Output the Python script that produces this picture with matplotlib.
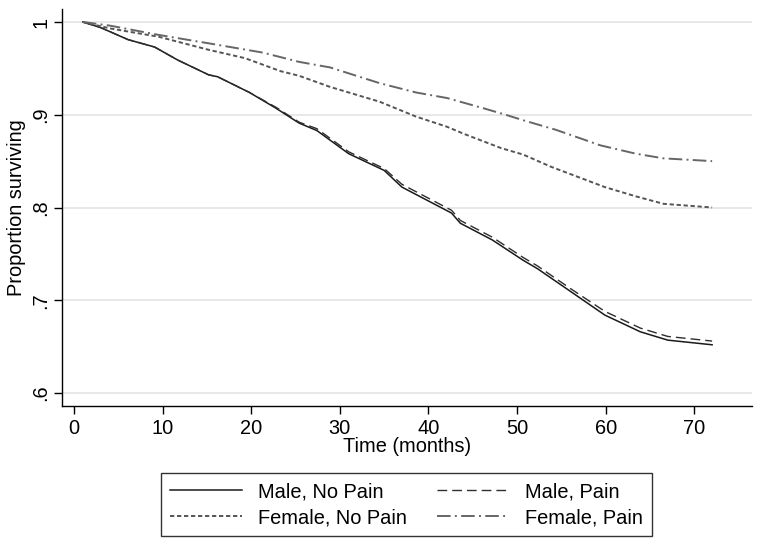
import matplotlib
matplotlib.use("Agg")
import matplotlib.pyplot as plt
import numpy as np

plt.rcParams['font.family'] = ['Liberation Sans', 'DejaVu Sans']

# Data
t_mnp = [1, 3, 6.1, 9.1, 11.7, 15.2, 16.2, 19.8, 22.8, 25.4, 27.4, 31, 35, 37, 40.6, 42.6,
         43.6, 47.2, 50.7, 52.3, 55.8, 59.9, 63.9, 67, 72]
v_mnp = [1.0, 0.994, 0.981, 0.973, 0.959, 0.943, 0.941, 0.924, 0.907, 0.891, 0.883, 0.858,
         0.840, 0.822, 0.804, 0.794, 0.783, 0.765, 0.743, 0.734, 0.711, 0.684, 0.666, 0.657, 0.652]

t_mp = [1, 3, 6.1, 9.1, 11.7, 15.2, 16.2, 19.8, 22.8, 25.4, 27.4, 31, 35, 37, 40.6, 42.6,
        43.6, 47.2, 50.7, 52.3, 55.8, 59.9, 63.9, 67, 72]
v_mp = [1.0, 0.994, 0.981, 0.973, 0.959, 0.943, 0.941, 0.924, 0.908, 0.892, 0.885, 0.860,
        0.842, 0.825, 0.807, 0.797, 0.786, 0.768, 0.746, 0.737, 0.714, 0.688, 0.670, 0.661, 0.656]

t_fnp = [1, 4.1, 9.6, 15.2, 19.3, 23.3, 25.4, 28.9, 34.5, 38.6, 42.1, 44.1, 48.2, 50.7,
         53.8, 59.9, 63.4, 66.5, 72]
v_fnp = [1.0, 0.993, 0.984, 0.970, 0.961, 0.947, 0.942, 0.930, 0.914, 0.898, 0.887, 0.879,
         0.864, 0.857, 0.844, 0.822, 0.812, 0.804, 0.800]

t_fp = [1, 4.1, 9.6, 15.2, 21.3, 25.4, 28.9, 34.5, 38.6, 42.1, 46.2, 48.7, 50.7, 54.3,
        59.4, 63.4, 66.5, 72]
v_fp = [1.0, 0.996, 0.986, 0.977, 0.967, 0.957, 0.951, 0.934, 0.924, 0.918, 0.907, 0.900,
        0.894, 0.884, 0.867, 0.858, 0.853, 0.850]

labels = ["Male, No Pain", "Male, Pain", "Female, No Pain", "Female, Pain"]
x_ticks = [0, 10, 20, 30, 40, 50, 60, 70]
y_ticks = [0.6, 0.7, 0.8, 0.9, 1.0]
y_ticklabels = [".6", ".7", ".8", ".9", "1"]

FS = 14.4

fig = plt.figure(figsize=(7.62, 5.46), dpi=100)
ax = fig.add_axes([62/762, 1-406/546, 690/762, 397/546])

l1, = ax.plot(t_mnp, v_mnp, color="#1a1a1a", lw=1.1, ls='-')
l2, = ax.plot(t_mp, v_mp, color="#2e2e2e", lw=1.0, ls=(0, (7, 3.6)))
l3, = ax.plot(t_fnp, v_fnp, color="#555555", lw=1.4, ls=(0, (2.2, 1.4)))
l4, = ax.plot(t_fp, v_fp, color="#666666", lw=1.4, ls=(0, (7, 2.2, 1.0, 2.2)))

ax.set_xlim(-1.35, 76.5)
ax.set_ylim(0.586, 1.014)
ax.set_xticks(x_ticks)
ax.set_yticks(y_ticks)
ax.set_yticklabels(y_ticklabels, rotation=90, va='center')
ax.tick_params(axis='both', direction='out', length=5.5, width=1, labelsize=FS, colors='black')
ax.tick_params(axis='x', pad=4)
ax.tick_params(axis='y', pad=3)
ax.grid(axis='y', color='#e6e6e6', lw=1.3)
ax.set_axisbelow(True)
for s in ['top', 'right']:
    ax.spines[s].set_visible(False)
for s in ['left', 'bottom']:
    ax.spines[s].set_linewidth(1.0)

ax.set_xlabel("Time (months)", fontsize=FS, labelpad=-1)
ax.set_ylabel("Proportion surviving", fontsize=FS, labelpad=4)

leg = fig.legend([l1, l3, l2, l4], [labels[0], labels[2], labels[1], labels[3]], ncol=2,
                 loc='center', bbox_to_anchor=(406.5/762, 1-504.5/546), fontsize=FS,
                 frameon=True, fancybox=False, edgecolor='black', handlelength=3.6,
                 columnspacing=1.5, handletextpad=0.8, borderpad=0.45, labelspacing=0.35)
leg.get_frame().set_linewidth(1.0)

fig.savefig("out.png", dpi=100)
